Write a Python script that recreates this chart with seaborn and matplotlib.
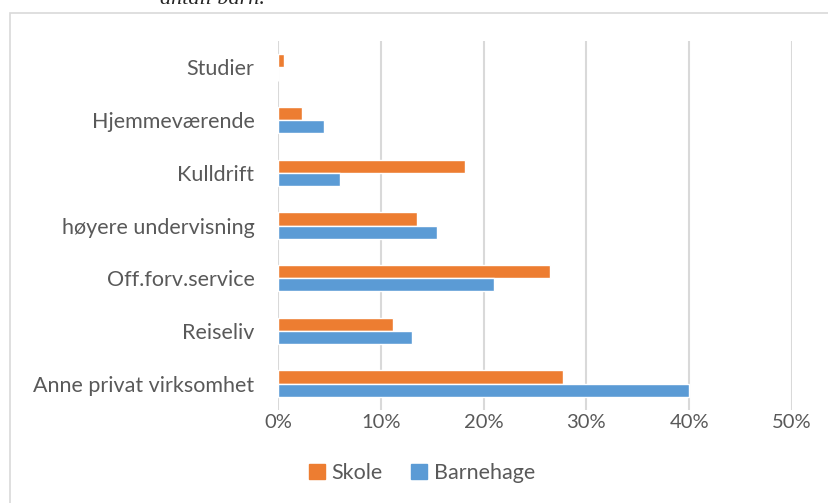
import matplotlib
matplotlib.use("Agg")
import matplotlib.pyplot as plt
import matplotlib.patches as mpatches
import seaborn as sns
import pandas as pd

# data (share of respondents)
categories = ["Studier", "Hjemmeværende", "Kulldrift", "høyere undervisning",
              "Off.forv.service", "Reiseliv", "Anne privat virksomhet"]
skole = [0.006, 0.023, 0.182, 0.135, 0.265, 0.112, 0.277]
barnehage = [0.0, 0.045, 0.060, 0.155, 0.210, 0.130, 0.400]
series = ["Skole", "Barnehage"]
xticks = [0, 0.1, 0.2, 0.3, 0.4, 0.5]

df = pd.DataFrame({
    "kategori": categories * 2,
    "andel": skole + barnehage,
    "gruppe": ["Skole"] * len(categories) + ["Barnehage"] * len(categories),
})

sns.set_style("white")
plt.rcParams["font.family"] = ["Lato", "DejaVu Sans"]

text_col = "#595959"
grid_col = "#D9D9D9"
palette = {"Skole": "#ED7D31", "Barnehage": "#5B9BD5"}

fig = plt.figure(figsize=(8.29, 5.03), dpi=100)
ax = fig.add_axes([278 / 829, 1 - 410 / 503, (792 - 278) / 829, (410 - 41) / 503])

sns.barplot(data=df, y="kategori", x="andel", hue="gruppe", order=categories,
            hue_order=series, palette=palette, width=0.5, orient="h",
            ax=ax, legend=False, saturation=1)

ax.set_xlim(0, 0.5)
ax.set_ylim(len(categories) - 0.5, -0.5)
ax.set_xticks(xticks)
ax.set_xticklabels([f"{int(round(v * 100))}%" for v in xticks])
ax.set_xlabel("")
ax.set_ylabel("")
ax.xaxis.grid(True, color=grid_col, linewidth=1.5)
ax.set_axisbelow(True)
for s in ax.spines.values():
    s.set_visible(False)
ax.tick_params(axis="both", length=0, labelcolor=text_col)
ax.tick_params(axis="x", pad=3, labelsize=14.5)
ax.tick_params(axis="y", pad=17, labelsize=15.5)

# legend below the plot
handles = [mpatches.Patch(color=palette[s], label=s) for s in series]
fig.legend(handles=handles, loc="center", bbox_to_anchor=(422 / 829, 1 - 473 / 503),
           ncol=2, frameon=False, fontsize=15.5, labelcolor=text_col,
           handlelength=0.75, handleheight=0.75, handletextpad=0.3, columnspacing=1.3)

# chart frame, cut off at right and bottom
fig.patches.append(mpatches.Rectangle((10 / 829, -0.1), 1.2, 1 - 13 / 503 + 0.1,
                                      transform=fig.transFigure, fill=False,
                                      edgecolor=grid_col, linewidth=1.2))

# caption text cut off at the top of the image
fig.text(160 / 829, 1 - 4 / 503, "antall barn.", fontsize=16, style="italic",
         family=["Liberation Serif", "DejaVu Serif"], va="baseline", ha="left")

fig.savefig("out.png", dpi=100)
